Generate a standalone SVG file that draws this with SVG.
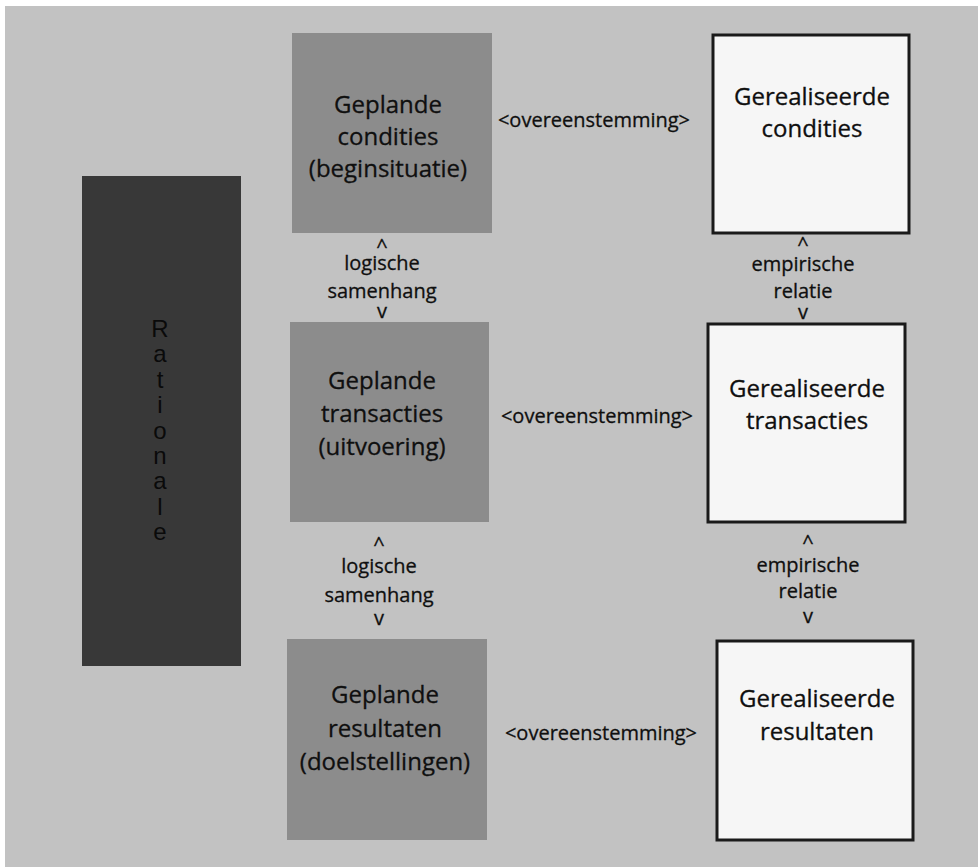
<svg xmlns="http://www.w3.org/2000/svg" width="978" height="867" viewBox="0 0 978 867">
<style>
.plan{fill:#8c8c8c}
.real{fill:#f6f6f6;stroke:#1a1a1a;stroke-width:3}
.t{font-family:"Open Sans","Liberation Sans",sans-serif;fill:#0f0f0f;text-anchor:middle;stroke:#0f0f0f;stroke-width:0.3}
.big{font-size:24px}
.sm{font-size:20px}
.ar{font-size:20px}
.rat{font-family:"Liberation Sans",Arial,sans-serif;font-size:24px;fill:#0a0a0a;text-anchor:middle}
</style>
<rect x="0" y="0" width="978" height="867" fill="#ffffff"/>
<rect x="5" y="6" width="973" height="861" fill="#c2c2c2"/>

<g id="rationale">
<rect x="82" y="176" width="159" height="490" fill="#383838"/>
<text class="rat" x="160" y="337">R</text>
<text class="rat" x="160" y="362">a</text>
<text class="rat" x="160" y="388">t</text>
<text class="rat" x="160" y="413">i</text>
<text class="rat" x="160" y="439">o</text>
<text class="rat" x="160" y="464">n</text>
<text class="rat" x="160" y="489">a</text>
<text class="rat" x="160" y="515">l</text>
<text class="rat" x="160" y="540">e</text>
</g>

<g id="geplande-condities">
<rect class="plan" x="292" y="33" width="200" height="200"/>
<text class="t big" x="388" y="113">Geplande</text>
<text class="t big" x="388" y="145">condities</text>
<text class="t big" x="388" y="177">(beginsituatie)</text>
</g>

<g id="geplande-transacties">
<rect class="plan" x="290" y="322" width="199" height="200"/>
<text class="t big" x="382" y="389">Geplande</text>
<text class="t big" x="382" y="422">transacties</text>
<text class="t big" x="382" y="455">(uitvoering)</text>
</g>

<g id="geplande-resultaten">
<rect class="plan" x="287" y="639" width="200" height="201"/>
<text class="t big" x="385" y="703">Geplande</text>
<text class="t big" x="385" y="737">resultaten</text>
<text class="t big" x="385" y="770">(doelstellingen)</text>
</g>

<g id="gerealiseerde-condities">
<rect class="real" x="713" y="35" width="196" height="198"/>
<text class="t big" x="812" y="105">Gerealiseerde</text>
<text class="t big" x="812" y="137">condities</text>
</g>

<g id="gerealiseerde-transacties">
<rect class="real" x="708" y="324" width="197" height="198"/>
<text class="t big" x="807" y="397">Gerealiseerde</text>
<text class="t big" x="807" y="429">transacties</text>
</g>

<g id="gerealiseerde-resultaten">
<rect class="real" x="717" y="641" width="196" height="199"/>
<text class="t big" x="817" y="707">Gerealiseerde</text>
<text class="t big" x="817" y="740">resultaten</text>
</g>

<g id="connectors">
<text class="t sm" x="594" y="127">&lt;overeenstemming&gt;</text>
<text class="t sm" x="597" y="423">&lt;overeenstemming&gt;</text>
<text class="t sm" x="601" y="740">&lt;overeenstemming&gt;</text>

<text class="t ar" x="382" y="253">^</text>
<text class="t sm" x="382" y="270">logische</text>
<text class="t sm" x="382" y="298">samenhang</text>
<text class="t ar" x="382" y="318">v</text>

<text class="t ar" x="379" y="551">^</text>
<text class="t sm" x="379" y="573">logische</text>
<text class="t sm" x="379" y="602">samenhang</text>
<text class="t ar" x="379" y="625">v</text>

<text class="t ar" x="803" y="251">^</text>
<text class="t sm" x="803" y="271">empirische</text>
<text class="t sm" x="803" y="298">relatie</text>
<text class="t ar" x="803" y="319">v</text>

<text class="t ar" x="808" y="549">^</text>
<text class="t sm" x="808" y="572">empirische</text>
<text class="t sm" x="808" y="598">relatie</text>
<text class="t ar" x="808" y="623">v</text>
</g>
</svg>
